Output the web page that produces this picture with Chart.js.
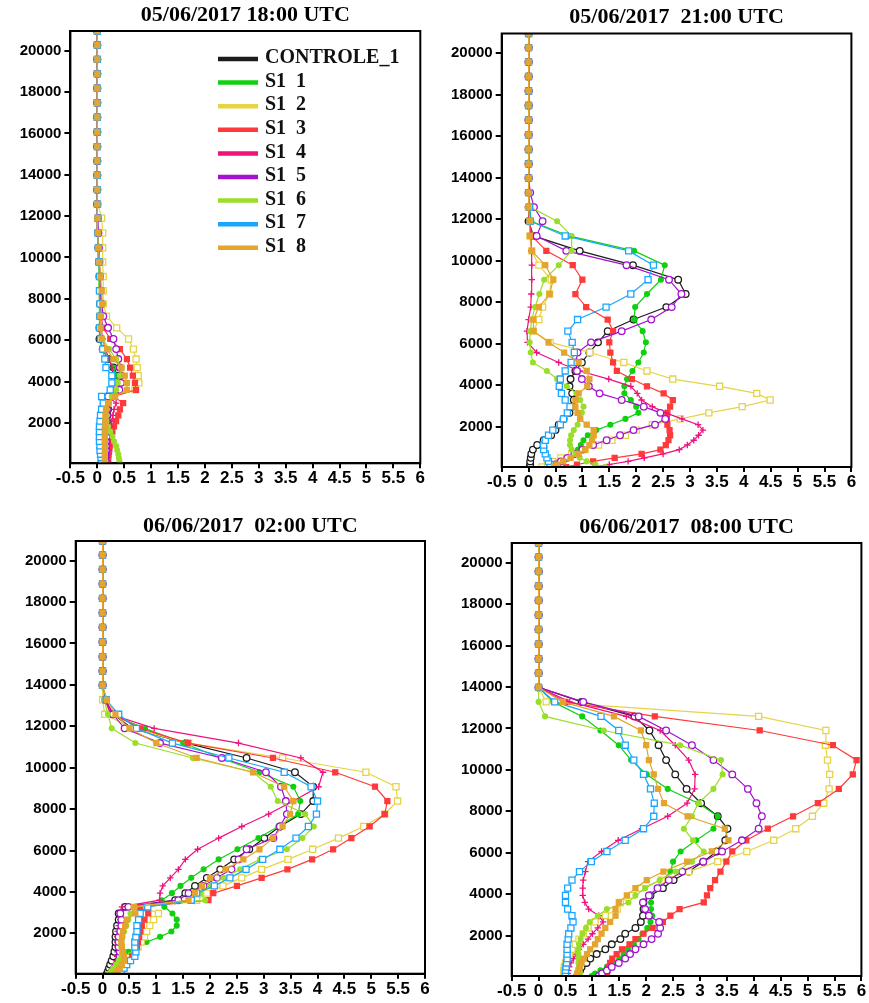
<!DOCTYPE html>
<html>
<head>
<meta charset="utf-8">
<script src="https://cdn.jsdelivr.net/npm/chart.js@4.4.1/dist/chart.umd.min.js"></script>
<style>
  html, body { margin: 0; padding: 0; background: #fff; }
  #wrap { position: relative; width: 869px; height: 1003px; overflow: hidden; }
  .panel { position: absolute; }
</style>
</head>
<body>
<div id="wrap">
  <div class="panel" style="left:0px;top:0px"><canvas id="c1" width="434" height="500"></canvas></div>
  <div class="panel" style="left:434px;top:0px"><canvas id="c2" width="435" height="500"></canvas></div>
  <div class="panel" style="left:0px;top:500px"><canvas id="c3" width="434" height="503"></canvas></div>
  <div class="panel" style="left:434px;top:500px"><canvas id="c4" width="435" height="503"></canvas></div>
</div>
<script>
// perfis verticais - 4 horarios, 9 simulacoes

// alturas dos niveis do modelo (m)
const levels = [50, 170, 320, 490, 680, 890, 1110, 1340, 1580, 1830,
    2090, 2370, 2660, 2960, 3280, 3600, 3940, 4290, 4680, 5090,
    5570, 6060, 6600, 7160, 7760, 8390, 9080, 9780, 10470, 11190,
    11900, 12580, 13280, 13980, 14670, 15360, 16070, 16780, 17480, 18180,
    18880, 19580, 20270, 20950];

const seriesLabels = ['CONTROLE_1', 'S1  1', 'S1  2', 'S1  3', 'S1  4', 'S1  5', 'S1  6', 'S1  7', 'S1  8'];
const panelTitles = ['05/06/2017 18:00 UTC', '05/06/2017  21:00 UTC', '06/06/2017  02:00 UTC', '06/06/2017  08:00 UTC'];
const xTicks = [-0.5, 0, 0.5, 1, 1.5, 2, 2.5, 3, 3.5, 4, 4.5, 5, 5.5, 6];
const xTickLabels = ['-0.5', '0', '0.5', '1', '1.5', '2', '2.5', '3', '3.5', '4', '4.5', '5', '5.5', '6'];
const yTicks = [2000, 4000, 6000, 8000, 10000, 12000, 14000, 16000, 18000, 20000];
const yTickLabels = ['2000', '4000', '6000', '8000', '10000', '12000', '14000', '16000', '18000', '20000'];

// ---- 05/06/2017 18:00 UTC ----
const p1Controle = [0.12, 0.12, 0.13, 0.13, 0.14, 0.14, 0.15, 0.15, 0.16, 0.17,
    0.18, 0.19, 0.2, 0.2, 0.25, 0.4, 0.42, 0.38, 0.3, 0.2,
    0.1, 0.04, 0.04, 0.05, 0.05, 0.05, 0.04, 0.03, 0.02, 0.01,
    0.01, 0, 0, 0, 0, 0, 0, 0, 0, 0, 0, 0, 0, 0];
const p1S1_1 = [0.06, 0.06, 0.07, 0.07, 0.08, 0.08, 0.09, 0.1, 0.1, 0.11,
    0.12, 0.13, 0.14, 0.15, 0.2, 0.36, 0.4, 0.36, 0.3, 0.2,
    0.1, 0.05, 0.04, 0.04, 0.04, 0.04, 0.03, 0.03, 0.02, 0.01,
    0.01, 0, 0, 0, 0, 0, 0, 0, 0, 0, 0, 0, 0, 0];
const p1S1_2 = [0.13, 0.13, 0.13, 0.14, 0.14, 0.14, 0.15, 0.15, 0.15, 0.15,
    0.15, 0.16, 0.17, 0.2, 0.3, 0.7, 0.77, 0.76, 0.74, 0.72,
    0.67, 0.58, 0.36, 0.17, 0.11, 0.11, 0.11, 0.1, 0.1, 0.1,
    0.08, 0.01, 0, 0, 0, 0, 0, 0, 0, 0, 0, 0, 0, 0];
const p1S1_3 = [0.2, 0.2, 0.2, 0.21, 0.22, 0.23, 0.24, 0.26, 0.28, 0.31,
    0.35, 0.39, 0.42, 0.48, 0.3, 0.72, 0.7, 0.66, 0.61, 0.55,
    0.42, 0.24, 0.11, 0.07, 0.06, 0.05, 0.04, 0.03, 0.02, 0.01,
    0.01, 0, 0, 0, 0, 0, 0, 0, 0, 0, 0, 0, 0, 0];
const p1S1_4 = [0.18, 0.19, 0.2, 0.21, 0.22, 0.22, 0.23, 0.24, 0.24, 0.25,
    0.27, 0.29, 0.31, 0.35, 0.2, 0.3, 0.33, 0.3, 0.27, 0.22,
    0.15, 0.1, 0.07, 0.05, 0.04, 0.04, 0.03, 0.03, 0.02, 0.01,
    0.01, 0, 0, 0, 0, 0, 0, 0, 0, 0, 0, 0, 0, 0];
const p1S1_5 = [0.15, 0.15, 0.15, 0.15, 0.16, 0.16, 0.16, 0.17, 0.17, 0.17,
    0.17, 0.18, 0.18, 0.18, 0.2, 0.41, 0.44, 0.44, 0.42, 0.39,
    0.35, 0.3, 0.2, 0.11, 0.08, 0.06, 0.05, 0.04, 0.03, 0.02,
    0.01, 0, 0, 0, 0, 0, 0, 0, 0, 0, 0, 0, 0, 0];
const p1S1_6 = [0.42, 0.41, 0.4, 0.39, 0.37, 0.35, 0.31, 0.28, 0.24, 0.2,
    0.17, 0.16, 0.17, 0.2, 0.27, 0.35, 0.38, 0.42, 0.45, 0.35,
    0.22, 0.1, 0.05, 0.04, 0.04, 0.03, 0.03, 0.02, 0.02, 0.01,
    0.01, 0, 0, 0, 0, 0, 0, 0, 0, 0, 0, 0, 0, 0];
const p1S1_7 = [0.1, 0.08, 0.07, 0.06, 0.05, 0.05, 0.04, 0.04, 0.04, 0.04,
    0.05, 0.06, 0.08, 0.11, 0.08, 0.24, 0.27, 0.27, 0.16, 0.14,
    0.1, 0.06, 0.04, 0.05, 0.05, 0.04, 0.04, 0.03, 0.02, 0.01,
    0.01, 0, 0, 0, 0, 0, 0, 0, 0, 0, 0, 0, 0, 0];
const p1S1_8 = [0.15, 0.14, 0.14, 0.14, 0.14, 0.14, 0.14, 0.14, 0.14, 0.15,
    0.15, 0.15, 0.16, 0.2, 0.33, 0.55, 0.55, 0.51, 0.45, 0.3,
    0.18, 0.08, 0.06, 0.06, 0.09, 0.08, 0.06, 0.04, 0.02, 0.01,
    0, 0, 0, 0, 0, 0, 0, 0, 0, 0, 0, 0, 0, 0];

// ---- 05/06/2017 21:00 UTC ----
const p2Controle = [0.02, 0.03, 0.03, 0.04, 0.05, 0.08, 0.16, 0.28, 0.42, 0.5,
    0.56, 0.65, 0.76, 0.8, 0.84, 0.81, 0.76, 0.78, 0.87, 0.99,
    1.13, 1.29, 1.47, 1.95, 2.56, 2.92, 2.78, 1.94, 0.95, 0.09,
    0, 0, 0, 0, 0, 0, 0, 0, 0, 0, 0, 0, 0, 0];
const p2S1_1 = [0.45, 0.55, 0.65, 0.75, 0.85, 0.92, 0.97, 1.02, 1.1, 1.26,
    1.52, 1.8, 2.04, 2.0, 1.9, 1.78, 1.78, 1.83, 1.93, 2.04,
    2.14, 2.18, 2.12, 1.96, 1.98, 2.2, 2.46, 2.53, 1.96, 0.75,
    0.05, 0.02, 0, 0, 0, 0, 0, 0, 0, 0, 0, 0, 0, 0];
const p2S1_2 = [0.25, 0.35, 0.45, 0.6, 0.8, 1.05, 1.3, 1.55, 1.8, 2.0,
    2.3, 2.82, 3.35, 3.97, 4.49, 4.24, 3.55, 2.68, 2.2, 1.77,
    1.14, 0.4, 0.09, 0.19, 0.26, 0.39, 0.42, 0.19, 0.06, 0.03,
    0.02, 0, 0, 0, 0, 0, 0, 0, 0, 0, 0, 0, 0, 0];
const p2S1_3 = [0.7, 0.9, 1.2, 1.6, 2.1, 2.45, 2.55, 2.6, 2.63, 2.62,
    2.58, 2.57, 2.58, 2.63, 2.68, 2.51, 2.2, 1.92, 1.64, 1.57,
    1.52, 1.5, 1.57, 1.47, 1.07, 0.87, 1.0, 0.82, 0.33, 0.06,
    0.02, 0, 0, 0, 0, 0, 0, 0, 0, 0, 0, 0, 0, 0];
const p2S1_4 = [1.2, 1.5, 1.85, 2.15, 2.5, 2.8, 2.95, 3.07, 3.16, 3.24,
    3.15, 2.85, 2.55, 2.3, 2.1, 2.02, 1.9, 1.49, 0.95, 0.56,
    0.15, -0.02, -0.03, 0, 0.04, 0.05, 0.06, 0.06, 0.05, 0.04,
    0.02, 0.01, 0, 0, 0, 0, 0, 0, 0, 0, 0, 0, 0, 0];
const p2S1_5 = [0.4, 0.5, 0.6, 0.72, 0.85, 1.0, 1.2, 1.45, 1.7, 1.95,
    2.35, 2.54, 2.45, 2.14, 1.73, 1.32, 1.12, 0.99, 0.9, 0.88,
    0.91, 1.16, 1.73, 2.28, 2.66, 2.84, 2.61, 1.82, 0.7, 0.15,
    0.26, 0.1, 0.03, 0, 0, 0, 0, 0, 0, 0, 0, 0, 0, 0];
const p2S1_6 = [1.42, 1.24, 1.08, 0.95, 0.87, 0.8, 0.77, 0.77, 0.79, 0.84,
    0.91, 0.96, 0.99, 1.02, 0.96, 0.89, 0.71, 0.53, 0.34, 0.08,
    0.04, 0.02, 0.03, 0.06, 0.12, 0.2, 0.29, 0.56, 0.8, 0.8,
    0.53, 0.03, 0, 0, 0, 0, 0, 0, 0, 0, 0, 0, 0, 0];
const p2S1_7 = [0.43, 0.4, 0.37, 0.34, 0.31, 0.28, 0.28, 0.31, 0.37, 0.45,
    0.59, 0.65, 0.72, 0.77, 0.68, 0.61, 0.57, 0.59, 0.68, 0.79,
    0.85, 0.81, 0.73, 0.91, 1.44, 1.9, 2.22, 2.32, 1.86, 0.68,
    0.03, 0.02, 0, 0, 0, 0, 0, 0, 0, 0, 0, 0, 0, 0];
const p2S1_8 = [0.47, 0.53, 0.64, 0.78, 0.93, 1.05, 1.13, 1.18, 1.21, 1.21,
    1.08, 0.96, 0.91, 0.87, 0.87, 0.93, 1.09, 1.13, 1.08, 0.93,
    0.66, 0.37, 0.09, 0.09, 0.19, 0.39, 0.46, 0.31, 0.06, 0.02,
    0.02, 0, 0, 0, 0, 0, 0, 0, 0, 0, 0, 0, 0, 0];

// ---- 06/06/2017 02:00 UTC ----
const p3Controle = [0.08, 0.1, 0.12, 0.14, 0.17, 0.2, 0.22, 0.24, 0.24, 0.24,
    0.25, 0.27, 0.3, 0.3, 0.42, 1.35, 1.54, 1.72, 1.94, 2.19,
    2.45, 2.73, 3.01, 3.3, 3.69, 3.92, 3.92, 3.58, 2.68, 1.56,
    0.55, 0.2, 0.05, 0, 0, 0, 0, 0, 0, 0, 0, 0, 0, 0];
const p3S1_1 = [0.12, 0.16, 0.2, 0.24, 0.3, 0.38, 0.48, 0.6, 0.82, 1.07,
    1.28, 1.38, 1.38, 1.3, 1.15, 1.1, 1.29, 1.45, 1.65, 1.88,
    2.16, 2.51, 2.9, 3.27, 3.64, 3.68, 3.55, 2.92, 2.2, 1.5,
    0.79, 0.15, 0.05, 0, 0, 0, 0, 0, 0, 0, 0, 0, 0, 0];
const p3S1_2 = [0.28, 0.32, 0.37, 0.42, 0.48, 0.55, 0.6, 0.66, 0.72, 0.78,
    0.82, 0.88, 0.95, 1.04, 0.75, 1.75, 1.94, 2.24, 2.59, 2.96,
    3.45, 3.91, 4.39, 4.86, 5.25, 5.49, 5.46, 4.9, 3.35, 1.6,
    0.55, 0.04, 0, 0, 0, 0, 0, 0, 0, 0, 0, 0, 0, 0];
const p3S1_3 = [0.3, 0.35, 0.4, 0.45, 0.5, 0.55, 0.6, 0.64, 0.66, 0.68,
    0.7, 0.73, 0.78, 0.85, 0.7, 1.97, 2.06, 2.5, 2.96, 3.44,
    3.9, 4.29, 4.63, 4.97, 5.25, 5.3, 5.07, 4.33, 3.17, 1.59,
    0.7, 0.2, 0.05, 0, 0, 0, 0, 0, 0, 0, 0, 0, 0, 0];
const p3S1_4 = [0.17, 0.19, 0.21, 0.23, 0.25, 0.27, 0.28, 0.28, 0.27, 0.27,
    0.28, 0.3, 0.33, 0.3, 0.36, 1.06, 1.07, 1.12, 1.26, 1.41,
    1.54, 1.77, 2.16, 2.59, 3.09, 3.55, 4.02, 4.1, 3.69, 2.53,
    0.96, 0.15, 0.05, 0, 0, 0, 0, 0, 0, 0, 0, 0, 0, 0];
const p3S1_5 = [0.15, 0.18, 0.22, 0.26, 0.3, 0.32, 0.32, 0.3, 0.3, 0.3,
    0.33, 0.35, 0.35, 0.33, 0.48, 1.41, 1.6, 1.88, 2.13, 2.4,
    2.53, 2.68, 3.18, 3.3, 3.43, 3.41, 3.32, 3.04, 2.22, 1.07,
    0.41, 0.19, 0.05, 0, 0, 0, 0, 0, 0, 0, 0, 0, 0, 0];
const p3S1_6 = [0.12, 0.16, 0.2, 0.25, 0.3, 0.35, 0.36, 0.35, 0.35, 0.37,
    0.4, 0.44, 0.48, 0.52, 0.6, 1.91, 1.82, 2.0, 2.25, 2.56,
    2.93, 3.43, 3.72, 3.93, 3.77, 3.26, 3.13, 2.8, 1.68, 0.61,
    0.17, 0.1, 0.03, 0, 0, 0, 0, 0, 0, 0, 0, 0, 0, 0];
const p3S1_7 = [0.3, 0.35, 0.4, 0.45, 0.52, 0.6, 0.62, 0.6, 0.6, 0.62,
    0.64, 0.64, 0.67, 0.7, 0.84, 1.65, 1.75, 2.08, 2.37, 2.67,
    2.98, 3.3, 3.6, 3.83, 3.98, 4.0, 3.88, 3.38, 2.35, 1.3,
    0.63, 0.3, 0.07, 0, 0, 0, 0, 0, 0, 0, 0, 0, 0, 0];
const p3S1_8 = [0.25, 0.28, 0.32, 0.36, 0.4, 0.4, 0.38, 0.36, 0.35, 0.36,
    0.38, 0.42, 0.45, 0.61, 0.58, 1.6, 1.72, 1.85, 2.0, 2.29,
    2.62, 2.92, 3.17, 3.35, 3.49, 3.55, 3.38, 2.8, 1.75, 1.0,
    0.5, 0.24, 0.08, 0, 0, 0, 0, 0, 0, 0, 0, 0, 0, 0];

// ---- 06/06/2017 08:00 UTC ----
const p4Controle = [0.72, 0.74, 0.77, 0.8, 0.89, 0.96, 1.08, 1.24, 1.36, 1.52,
    1.61, 1.8, 1.9, 1.94, 1.95, 1.95, 2.08, 2.31, 2.51, 2.79,
    3.06, 3.31, 3.47, 3.51, 3.33, 3.02, 2.75, 2.54, 2.37, 2.23,
    2.06, 1.78, 0.8, 0, 0, 0, 0, 0, 0, 0, 0, 0, 0, 0];
const p4S1_1 = [0.99, 1.05, 1.15, 1.27, 1.39, 1.5, 1.58, 1.66, 1.77, 1.86,
    1.93, 2.02, 2.08, 2.11, 2.09, 2.09, 2.08, 2.2, 2.31, 2.45,
    2.5, 2.64, 2.93, 3.25, 3.33, 2.97, 2.4, 2.01, 1.72, 1.49,
    1.15, 0.81, 0.27, 0, 0, 0, 0, 0, 0, 0, 0, 0, 0, 0];
const p4S1_2 = [0.47, 0.47, 0.47, 0.48, 0.5, 0.52, 0.57, 0.62, 0.68, 0.75,
    0.83, 0.92, 1.05, 1.24, 1.46, 1.52, 1.73, 1.89, 2.29, 2.79,
    3.33, 3.87, 4.37, 4.78, 5.09, 5.3, 5.4, 5.41, 5.37, 5.33,
    5.34, 4.09, 0.14, 0, 0, 0, 0, 0, 0, 0, 0, 0, 0, 0];
const p4S1_3 = [1.27, 1.27, 1.28, 1.3, 1.33, 1.37, 1.45, 1.55, 1.69, 1.8,
    1.95, 2.12, 2.31, 2.45, 2.62, 3.07, 3.13, 3.19, 3.28, 3.38,
    3.49, 3.6, 3.86, 4.26, 4.73, 5.19, 5.58, 5.84, 5.91, 5.47,
    4.11, 2.16, 0.5, 0, 0, 0, 0, 0, 0, 0, 0, 0, 0, 0];
const p4S1_4 = [0.53, 0.54, 0.55, 0.57, 0.6, 0.65, 0.7, 0.75, 0.83, 0.92,
    1.0, 1.1, 1.2, 1.12, 0.93, 0.86, 0.82, 0.82, 0.83, 0.87,
    0.92, 1.17, 1.48, 1.92, 2.4, 2.76, 2.9, 2.91, 2.79, 2.54,
    2.26, 1.63, 0.58, 0, 0, 0, 0, 0, 0, 0, 0, 0, 0, 0];
const p4S1_5 = [1.12, 1.18, 1.27, 1.36, 1.49, 1.61, 1.7, 1.8, 1.95, 2.1,
    2.22, 2.26, 2.24, 2.05, 1.98, 1.94, 2.05, 2.21, 2.42, 2.67,
    3.06, 3.41, 3.78, 4.09, 4.15, 4.05, 3.89, 3.6, 3.25, 2.85,
    2.37, 1.86, 0.83, 0, 0, 0, 0, 0, 0, 0, 0, 0, 0, 0];
const p4S1_6 = [0.78, 0.77, 0.76, 0.75, 0.74, 0.74, 0.74, 0.74, 0.75, 0.78,
    0.82, 0.88, 0.95, 1.1, 1.27, 1.67, 1.8, 1.98, 2.25, 2.55,
    2.85, 3.07, 2.87, 2.7, 2.85, 2.97, 3.25, 3.42, 3.39, 2.63,
    1.21, 0.12, 0, 0, 0, 0, 0, 0, 0, 0, 0, 0, 0, 0];
const p4S1_7 = [0.5, 0.5, 0.5, 0.51, 0.52, 0.53, 0.53, 0.53, 0.53, 0.55,
    0.56, 0.6, 0.64, 0.62, 0.54, 0.5, 0.5, 0.54, 0.62, 0.76,
    0.98, 1.27, 1.61, 1.95, 2.14, 2.15, 2.08, 1.95, 1.77, 1.61,
    1.49, 1.16, 0.3, 0, 0, 0, 0, 0, 0, 0, 0, 0, 0, 0];
const p4S1_8 = [0.71, 0.72, 0.74, 0.77, 0.8, 0.84, 0.9, 0.96, 1.05, 1.1,
    1.17, 1.24, 1.33, 1.43, 1.43, 1.49, 1.64, 1.8, 2.01, 2.32,
    2.76, 3.22, 3.53, 3.46, 2.77, 2.33, 2.22, 2.14, 2.05, 2.0,
    1.9, 1.4, 0.45, 0, 0, 0, 0, 0, 0, 0, 0, 0, 0, 0];

// estilo de cada simulacao (cor, marcador)
const seriesStyles = [
    { color: '#1c1c1c', point: 'circle', fill: false, r: 3.3 },
    { color: '#10d010', point: 'circle', fill: true, r: 2.4 },
    { color: '#e6d446', point: 'rect', fill: false, r: 4.3 },
    { color: '#ff3a3a', point: 'rect', fill: true, r: 3.5 },
    { color: '#f0127c', point: 'cross', fill: false, r: 3.2 },
    { color: '#a312cf', point: 'circle', fill: false, r: 3.3 },
    { color: '#9ade2a', point: 'circle', fill: true, r: 2.4 },
    { color: '#1aa6ff', point: 'rect', fill: false, r: 4.3 },
    { color: '#e4a42e', point: 'rect', fill: true, r: 3.5 },
];

// caixa do grafico (borda preta completa)
const frameBox = {
    id: 'frameBox',
    afterDatasetsDraw(chart) {
        const a = chart.chartArea;
        const ctx = chart.ctx;
        ctx.save();
        ctx.strokeStyle = '#000';
        ctx.lineWidth = 2;
        ctx.strokeRect(a.left, a.top, a.right - a.left, a.bottom - a.top);
        ctx.restore();
    },
};

// legenda desenhada dentro do primeiro painel
const innerLegend = {
    id: 'innerLegend',
    afterDraw(chart, args, opts) {
        if (!opts || !opts.show) return;
        const ctx = chart.ctx;
        ctx.save();
        ctx.font = 'bold 20px "Liberation Serif", "Times New Roman", serif';
        ctx.textBaseline = 'middle';
        chart.data.datasets.forEach((ds, i) => {
            const y = opts.y0 + i * opts.step;
            ctx.strokeStyle = ds.borderColor;
            ctx.lineWidth = 4.5;
            ctx.beginPath();
            ctx.moveTo(opts.x0, y + 1);
            ctx.lineTo(opts.x0 + 40, y + 1);
            ctx.stroke();
            ctx.fillStyle = '#111';
            ctx.fillText(ds.label, opts.x0 + 47, y);
        });
        ctx.restore();
    },
};

function buildDatasets(seriesList) {
    return seriesList.map((vals, i) => {
        const st = seriesStyles[i];
        return {
            label: seriesLabels[i],
            data: levels.map((h, k) => ({ x: vals[k], y: h })),
            showLine: true,
            borderColor: st.color,
            backgroundColor: st.color,
            borderWidth: 1.2,
            pointStyle: st.point,
            pointRadius: st.r,
            pointBorderWidth: 1.3,
            pointBorderColor: st.color,
            pointBackgroundColor: st.fill ? st.color : '#ffffff',
            order: seriesList.length - 1 - i,
        };
    });
}

function makePanel(canvasId, title, seriesList, box, legend) {
    const titleSize = 22;
    const lh = titleSize * 1.2;
    return new Chart(document.getElementById(canvasId), {
        type: 'scatter',
        data: { datasets: buildDatasets(seriesList) },
        options: {
            responsive: false,
            animation: false,
            events: [],
            layout: { padding: { left: 0, right: box.right, top: 0, bottom: 0 } },
            plugins: {
                legend: { display: false },
                tooltip: { enabled: false },
                title: {
                    display: true,
                    text: title,
                    fullSize: false,
                    color: '#000',
                    font: { family: '"Liberation Serif", "Times New Roman", serif', size: titleSize, weight: 'bold', lineHeight: 1.2 },
                    padding: { top: box.titleCenter - lh / 2, bottom: box.chartTop - box.titleCenter - lh / 2 },
                },
                innerLegend: legend || { show: false },
            },
            scales: {
                x: {
                    type: 'linear',
                    min: -0.5,
                    max: 6,
                    afterBuildTicks: (s) => { s.ticks = xTicks.map((v) => ({ value: v })); },
                    afterFit: (s) => { s.height = box.xH; },
                    ticks: {
                        autoSkip: false,
                        maxRotation: 0,
                        minRotation: 0,
                        padding: 0,
                        color: '#000',
                        font: { family: '"Liberation Sans", Arial, sans-serif', size: 17, weight: 'bold' },
                        callback: (v, i) => xTickLabels[i],
                    },
                    grid: { drawOnChartArea: false, drawTicks: true, tickLength: 5, color: '#000', lineWidth: 2 },
                    border: { display: true, color: '#000', width: 2 },
                },
                y: {
                    type: 'linear',
                    min: 50,
                    max: 20950,
                    afterBuildTicks: (s) => { s.ticks = yTicks.map((v) => ({ value: v })); },
                    afterFit: (s) => { s.width = box.yW; },
                    ticks: {
                        autoSkip: false,
                        padding: 3,
                        color: '#000',
                        font: { family: '"Liberation Sans", Arial, sans-serif', size: 15, weight: 'bold' },
                        callback: (v, i) => yTickLabels[i],
                    },
                    grid: { drawOnChartArea: false, drawTicks: true, tickLength: 6, color: '#000', lineWidth: 2 },
                    border: { display: true, color: '#000', width: 2 },
                },
            },
        },
        plugins: [frameBox, innerLegend],
    });
}

makePanel('c1', panelTitles[0],
    [p1Controle, p1S1_1, p1S1_2, p1S1_3, p1S1_4, p1S1_5, p1S1_6, p1S1_7, p1S1_8],
    { yW: 70.4, right: 13.7, xH: 36.7, titleCenter: 15, chartTop: 31 },
    { show: true, x0: 218, y0: 58, step: 23.6 });
makePanel('c2', panelTitles[1],
    [p2Controle, p2S1_1, p2S1_2, p2S1_3, p2S1_4, p2S1_5, p2S1_6, p2S1_7, p2S1_8],
    { yW: 67.7, right: 17.6, xH: 33, titleCenter: 17, chartTop: 33.5 });
makePanel('c3', panelTitles[2],
    [p3Controle, p3S1_1, p3S1_2, p3S1_3, p3S1_4, p3S1_5, p3S1_6, p3S1_7, p3S1_8],
    { yW: 75.7, right: 9, xH: 29.3, titleCenter: 26, chartTop: 41 });
makePanel('c4', panelTitles[3],
    [p4Controle, p4S1_1, p4S1_2, p4S1_3, p4S1_4, p4S1_5, p4S1_6, p4S1_7, p4S1_8],
    { yW: 77.7, right: 7.6, xH: 27, titleCenter: 27, chartTop: 43 });
</script>
</body>
</html>
